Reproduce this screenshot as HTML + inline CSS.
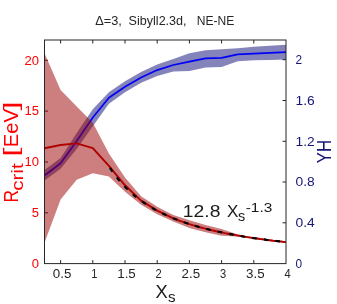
<!DOCTYPE html>
<html><head><meta charset="utf-8"><style>
html,body{margin:0;padding:0;background:#fff;}
svg{display:block;will-change:transform;font-family:"Liberation Sans",sans-serif;}
</style></head><body>
<svg width="337" height="304" viewBox="0 0 337 304">
<rect width="337" height="304" fill="#fff"/>
<g stroke="#262626" stroke-width="1" fill="none"><path d="M60.6,263.6 v-3.5 M60.6,40.0 v3.5"/><path d="M92.8,263.6 v-3.5 M92.8,40.0 v3.5"/><path d="M125.0,263.6 v-3.5 M125.0,40.0 v3.5"/><path d="M157.2,263.6 v-3.5 M157.2,40.0 v3.5"/><path d="M189.4,263.6 v-3.5 M189.4,40.0 v3.5"/><path d="M221.6,263.6 v-3.5 M221.6,40.0 v3.5"/><path d="M253.8,263.6 v-3.5 M253.8,40.0 v3.5"/><path d="M44.5,212.8 h3.5"/><path d="M44.5,162.0 h3.5"/><path d="M44.5,111.1 h3.5"/><path d="M44.5,60.3 h3.5"/><path d="M286.0,222.8 h-3.5"/><path d="M286.0,182.0 h-3.5"/><path d="M286.0,141.3 h-3.5"/><path d="M286.0,100.5 h-3.5"/><path d="M286.0,59.7 h-3.5"/></g>
<path d="M44.5,170.0 L60.6,157.9 L76.7,133.1 L92.8,109.3 L108.9,92.3 L125.0,81.3 L141.1,72.1 L157.2,64.5 L173.3,59.1 L189.4,53.2 L205.5,50.2 L221.6,49.2 L237.7,48.3 L253.8,46.8 L269.9,45.8 L286.0,44.8 L286.0,59.6 L269.9,59.9 L253.8,60.2 L237.7,61.2 L221.6,67.0 L205.5,67.5 L189.4,70.9 L173.3,71.6 L157.2,75.9 L141.1,82.8 L125.0,92.3 L108.9,103.7 L92.8,126.3 L76.7,148.9 L60.6,168.8 L44.5,180.5Z" fill="#0a0a78" fill-opacity="0.5"/>
<path d="M44.5,175.5 L60.6,163.3 L76.7,141.0 L92.8,117.5 L108.9,97.8 L125.0,86.8 L141.1,77.5 L157.2,70.1 L173.3,65.0 L189.4,61.7 L205.5,58.4 L221.6,57.9 L237.7,54.3 L253.8,53.7 L269.9,52.9 L286.0,52.1" fill="none" stroke="#0000f5" stroke-width="1.7" stroke-linejoin="round"/>
<path d="M44.5,53.2 L60.6,90.0 L76.7,106.4 L92.8,122.8 L108.9,153.5 L125.0,177.4 L141.1,196.2 L157.2,206.7 L173.3,215.0 L189.4,220.2 L205.5,225.1 L221.6,229.1 L237.7,234.4 L253.8,237.2 L269.9,239.4 L286.0,241.2 L286.0,243.0 L269.9,241.2 L253.8,239.0 L237.7,236.6 L221.6,235.7 L205.5,232.3 L189.4,228.0 L173.3,221.6 L157.2,214.3 L141.1,204.7 L125.0,191.8 L108.9,176.5 L92.8,173.2 L76.7,179.7 L60.6,199.6 L44.5,242.8Z" fill="#9c0000" fill-opacity="0.5"/>
<path d="M44.5,148.2 L60.6,145.0 L76.7,143.4 L92.8,148.2 L108.9,165.8 L125.0,185.3 L141.1,200.6 L157.2,210.6 L173.3,218.3 L173.3,218.3 L176.5,219.5 L179.7,220.8 L183.0,221.9 L186.2,223.0 L189.4,224.1 L192.6,225.1 L195.8,226.0 L199.1,227.0 L202.3,227.8 L205.5,228.7 L208.7,229.5 L211.9,230.3 L215.2,231.0 L218.4,231.7 L221.6,232.4 L224.8,233.1 L228.0,233.7 L231.3,234.3 L234.5,234.9 L237.7,235.5 L240.9,236.0 L244.1,236.6 L247.4,237.1 L250.6,237.6 L253.8,238.1 L257.0,238.5 L260.2,239.0 L263.5,239.4 L266.7,239.9 L269.9,240.3 L273.1,240.7 L276.3,241.0 L279.6,241.4 L282.8,241.8 L286.0,242.1" fill="none" stroke="#b00000" stroke-width="1.9" stroke-linejoin="round"/>
<path d="M108.9,166.3 L112.1,171.1 L115.3,175.5 L118.6,179.6 L121.8,183.3 L125.0,186.8 L128.2,190.0 L131.4,193.0 L134.7,195.8 L137.9,198.3 L141.1,200.7 L144.3,203.0 L147.5,205.1 L150.8,207.1 L154.0,209.0 L157.2,210.8 L160.4,212.4 L163.6,214.0 L166.9,215.5 L170.1,216.9 L173.3,218.3 L176.5,219.5 L179.7,220.8 L183.0,221.9 L186.2,223.0 L189.4,224.1 L192.6,225.1 L195.8,226.0 L199.1,227.0 L202.3,227.8 L205.5,228.7 L208.7,229.5 L211.9,230.3 L215.2,231.0 L218.4,231.7 L221.6,232.4 L224.8,233.1 L228.0,233.7 L231.3,234.3 L234.5,234.9 L237.7,235.5 L240.9,236.0 L244.1,236.6 L247.4,237.1 L250.6,237.6 L253.8,238.1 L257.0,238.5 L260.2,239.0 L263.5,239.4 L266.7,239.9 L269.9,240.3 L273.1,240.7 L276.3,241.0 L279.6,241.4 L282.8,241.8 L286.0,242.1" fill="none" stroke="#000" stroke-width="2.2" stroke-dasharray="4.6 7.1" stroke-dashoffset="-1.9"/>
<g stroke="#262626" stroke-width="1" fill="none">
<rect x="44.5" y="40.0" width="241.5" height="223.60000000000002"/>
</g>
<g font-size="11.9" fill="#262626"><text x="52.8" y="278.2" textLength="18.6" lengthAdjust="spacingAndGlyphs">0.5</text><text x="91.2" y="278.2" textLength="6.2" lengthAdjust="spacingAndGlyphs">1</text><text x="117.2" y="278.2" textLength="18.6" lengthAdjust="spacingAndGlyphs">1.5</text><text x="155.6" y="278.2" textLength="6.2" lengthAdjust="spacingAndGlyphs">2</text><text x="181.6" y="278.2" textLength="18.6" lengthAdjust="spacingAndGlyphs">2.5</text><text x="220.0" y="278.2" textLength="6.2" lengthAdjust="spacingAndGlyphs">3</text><text x="246.0" y="278.2" textLength="18.6" lengthAdjust="spacingAndGlyphs">3.5</text><text x="284.4" y="278.2" textLength="6.2" lengthAdjust="spacingAndGlyphs">4</text></g>
<g font-size="11.9" fill="#ff0000"><text x="31.8" y="267.9" textLength="7.25" lengthAdjust="spacingAndGlyphs">0</text><text x="31.8" y="217.1" textLength="7.25" lengthAdjust="spacingAndGlyphs">5</text><text x="24.5" y="166.3" textLength="14.5" lengthAdjust="spacingAndGlyphs">10</text><text x="24.5" y="115.4" textLength="14.5" lengthAdjust="spacingAndGlyphs">15</text><text x="24.5" y="64.6" textLength="14.5" lengthAdjust="spacingAndGlyphs">20</text></g>
<g font-size="11.9" fill="#151578"><text x="295.6" y="267.9" textLength="6.6" lengthAdjust="spacingAndGlyphs">0</text><text x="295.6" y="227.1" textLength="19.2" lengthAdjust="spacingAndGlyphs">0.4</text><text x="295.6" y="186.3" textLength="19.2" lengthAdjust="spacingAndGlyphs">0.8</text><text x="295.6" y="145.6" textLength="19.2" lengthAdjust="spacingAndGlyphs">1.2</text><text x="295.6" y="104.8" textLength="19.2" lengthAdjust="spacingAndGlyphs">1.6</text><text x="295.6" y="64.0" textLength="6.6" lengthAdjust="spacingAndGlyphs">2</text></g>
<g font-size="12.3" fill="#262626"><text x="95.2" y="24.5" textLength="26.6" lengthAdjust="spacingAndGlyphs">Δ=3,</text><text x="128.6" y="24.5" textLength="58" lengthAdjust="spacingAndGlyphs">Sibyll2.3d,</text><text x="196.8" y="24.5" textLength="37.6" lengthAdjust="spacingAndGlyphs">NE-NE</text></g>
<g fill="#1a1a1a">
<text x="182.8" y="217" font-size="16.8" textLength="37.6" lengthAdjust="spacingAndGlyphs">12.8</text>
<text x="227.1" y="217.2" font-size="17" textLength="11.4" lengthAdjust="spacingAndGlyphs">X</text>
<text x="238.0" y="221.3" font-size="14.4" textLength="7.2" lengthAdjust="spacingAndGlyphs">s</text>
<text x="245.7" y="212.4" font-size="13.2" textLength="26.6" lengthAdjust="spacingAndGlyphs">-1.3</text>
<text x="155.6" y="297.9" font-size="18.7" textLength="12.2" lengthAdjust="spacingAndGlyphs">X</text>
<text x="167.9" y="302.2" font-size="15" textLength="7.6" lengthAdjust="spacingAndGlyphs">s</text>
</g>
<g fill="#ff0000" transform="rotate(-90)">
<text x="-202.6" y="17.9" font-size="20" textLength="12.5" lengthAdjust="spacingAndGlyphs">R</text>
<text x="-190.8" y="22.9" font-size="16.8" textLength="27.4" lengthAdjust="spacingAndGlyphs">crit</text>
<text x="-156.5" y="17.9" font-size="20" textLength="9" lengthAdjust="spacingAndGlyphs">[</text>
<text x="-147.2" y="17.9" font-size="20" textLength="38.2" lengthAdjust="spacingAndGlyphs">EeV</text>
<text x="-110.5" y="17.9" font-size="20" textLength="9" lengthAdjust="spacingAndGlyphs">]</text>
</g>
<g fill="#151578" transform="rotate(-90)">
<text x="-163.3" y="330.8" font-size="20.4" textLength="23.3" lengthAdjust="spacingAndGlyphs">YH</text>
</g>
</svg>
</body></html>
